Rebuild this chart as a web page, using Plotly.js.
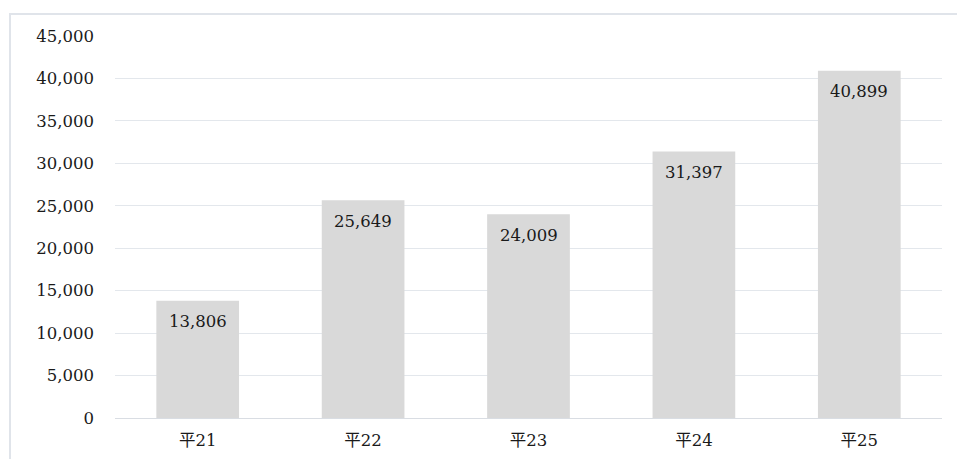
<!DOCTYPE html>
<html>
<head>
<meta charset="utf-8">
<script src="https://cdn.plot.ly/plotly-3.0.1.min.js"></script>
<style>
  html, body { margin: 0; padding: 0; background: #fff; }
  #frame {
    position: absolute; left: 9px; top: 13px; width: 960px; height: 460px;
    border-left: 2px solid #e0e4ea; border-top: 2px solid #e0e4ea;
  }
  #chart { position: absolute; left: 0; top: 0; width: 957px; height: 459px; }
</style>
</head>
<body>
<div id="frame"></div>
<div id="chart"></div>
<script>
// Fiscal years (Heisei era) and counts per year
const years = ['平21', '平22', '平23', '平24', '平25'];
const counts = [13806, 25649, 24009, 31397, 40899];
const yTicks = [0, 5000, 10000, 15000, 20000, 25000, 30000, 35000, 40000, 45000];

const serif = 'DejaVu Serif, Liberation Serif, Noto Sans CJK JP, serif';
const fmt = v => v.toLocaleString('en-US');

const trace = {
  type: 'bar',
  x: years,
  y: counts,
  marker: { color: '#d9d9d9', line: { width: 0 } },
  hoverinfo: 'skip'
};

// Value labels sit just inside the top of each bar
const labels = years.map((yr, i) => ({
  x: yr, y: counts[i], xref: 'x', yref: 'y',
  text: fmt(counts[i]), showarrow: false,
  yanchor: 'middle', yshift: -21,
  font: { family: serif, size: 16.5, color: '#1a1a1a' }
}));

const layout = {
  width: 957, height: 459,
  margin: { l: 115, r: 15, t: 36, b: 41 },
  paper_bgcolor: 'rgba(0,0,0,0)',
  plot_bgcolor: 'rgba(0,0,0,0)',
  bargap: 0.5,
  showlegend: false,
  font: { family: serif, size: 16.5, color: '#1a1a1a' },
  xaxis: {
    showgrid: false, zeroline: false, showline: false,
    ticks: '', ticklabelstandoff: 10,
    tickfont: { family: serif, size: 16.5, color: '#1a1a1a' }
  },
  yaxis: {
    range: [0, 45000], tickvals: yTicks, ticktext: yTicks.map(fmt),
    showgrid: true, gridcolor: '#e3e7ec', gridwidth: 1,
    zeroline: true, zerolinecolor: '#d9dde3', zerolinewidth: 1,
    showline: false, ticks: '', ticklabelstandoff: 20,
    tickfont: { family: serif, size: 16.5, color: '#1a1a1a' }
  },
  annotations: labels
};

Plotly.newPlot('chart', [trace], layout, { displayModeBar: false, staticPlot: true });
</script>
</body>
</html>
